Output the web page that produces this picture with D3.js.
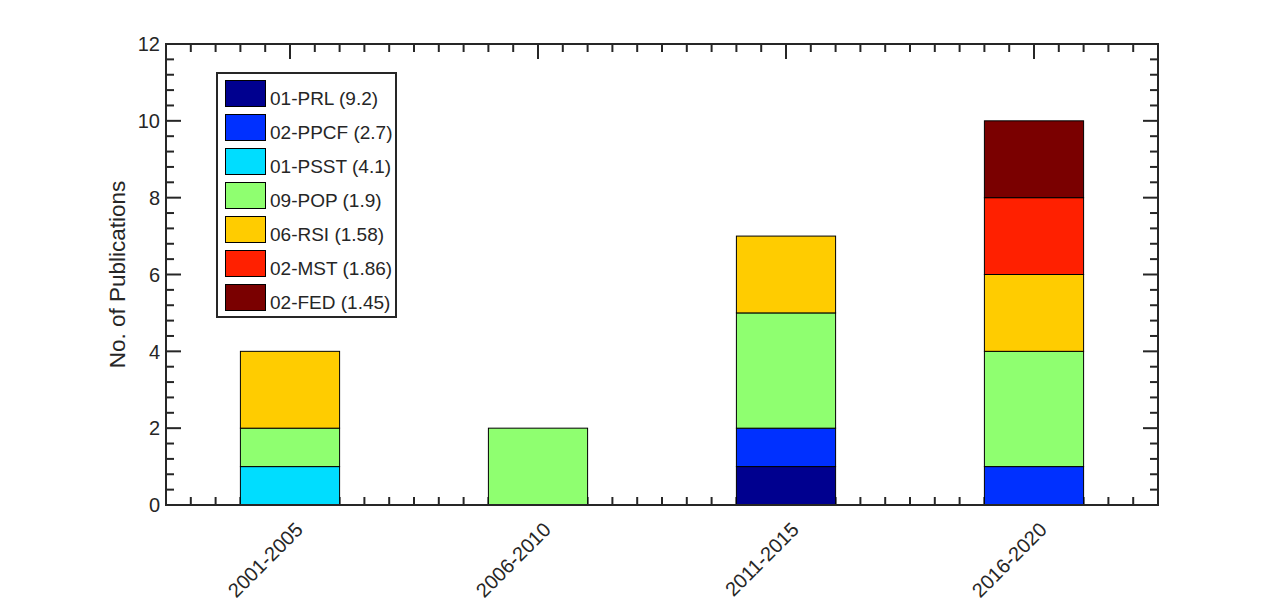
<!DOCTYPE html>
<html lang="en">
<head>
<meta charset="utf-8">
<title>No. of Publications by period</title>
<script src="https://d3js.org/d3.v7.min.js"></script>
<style>
  body { margin: 0; background: #fff; }
  svg text { font-family: "Liberation Sans", Arial, sans-serif; fill: #262626; }
</style>
</head>
<body>
<script>
// periods on the x axis
var periods = ["2001-2005", "2006-2010", "2011-2015", "2016-2020"];
// journals, stacked bottom to top
var journals = ["01-PRL (9.2)", "02-PPCF (2.7)", "01-PSST (4.1)", "09-POP (1.9)", "06-RSI (1.58)", "02-MST (1.86)", "02-FED (1.45)"];
var journalColors = ["#00008f", "#0030ff", "#00ddff", "#8fff70", "#ffcc00", "#ff2000", "#7a0000"];
// counts per journal, one value per period
var prl  = [0, 0, 1, 0];
var ppcf = [0, 0, 1, 1];
var psst = [1, 0, 0, 0];
var pop  = [1, 2, 3, 3];
var rsi  = [2, 0, 2, 2];
var mst  = [0, 0, 0, 2];
var fed  = [0, 0, 0, 2];
var yTicks = [0, 2, 4, 6, 8, 10, 12];

var counts = [prl, ppcf, psst, pop, rsi, mst, fed];

var W = 1280, H = 603;
var margin = {top: 44, right: 122, bottom: 98, left: 166};
var width = W - margin.left - margin.right;
var height = H - margin.top - margin.bottom;

var svg = d3.select("body").append("svg")
  .attr("width", W)
  .attr("height", H);

var g = svg.append("g").attr("transform", "translate(" + margin.left + "," + margin.top + ")");

// x is numeric like matlab: category i sits at i+1, limits 0.5..4.5
var x = d3.scaleLinear().domain([0.5, periods.length + 0.5]).range([0, width]);
var y = d3.scaleLinear().domain([0, 12]).range([height, 0]);
var barW = x(1.4) - x(1);

// inward ticks on all four sides (drawn first so bars cover them)
var axisColor = "#262626";
var xMinor = d3.range(6, (periods.length + 0.5) * 10, 1).map(function(v) { return v / 10; })
  .filter(function(v) { return Math.abs(v - Math.round(v)) > 1e-6; });
var xMajor = periods.map(function(p, i) { return i + 1; });
var yMinor = d3.range(0, 31).map(function(v) { return v * 0.4; })
  .filter(function(v) { return Math.abs(v / 2 - Math.round(v / 2)) > 1e-6; });

function xTickMarks(vals, len) {
  [[height, -1], [0, 1]].forEach(function(side) {
    g.selectAll(null).data(vals).enter().append("line")
      .attr("x1", function(d) { return x(d); })
      .attr("x2", function(d) { return x(d); })
      .attr("y1", side[0])
      .attr("y2", side[0] + side[1] * len)
      .attr("stroke", axisColor).attr("stroke-width", 2);
  });
}
function yTickMarks(vals, len) {
  [[0, 1], [width, -1]].forEach(function(side) {
    g.selectAll(null).data(vals).enter().append("line")
      .attr("y1", function(d) { return y(d); })
      .attr("y2", function(d) { return y(d); })
      .attr("x1", side[0])
      .attr("x2", side[0] + side[1] * len)
      .attr("stroke", axisColor).attr("stroke-width", 2);
  });
}
xTickMarks(xMinor, 8);
xTickMarks(xMajor, 15);
yTickMarks(yMinor, 8);
yTickMarks(yTicks, 15);

// build rows for d3.stack
var rows = periods.map(function(p, i) {
  var r = {period: p, pos: i + 1};
  journals.forEach(function(j, k) { r[j] = counts[k][i]; });
  return r;
});
var series = d3.stack().keys(journals)(rows);

series.forEach(function(s, k) {
  g.selectAll(".bar" + k)
    .data(s.filter(function(d) { return d[1] > d[0]; }))
    .enter().append("rect")
    .attr("x", function(d) { return x(d.data.pos) - barW / 2; })
    .attr("y", function(d) { return y(d[1]); })
    .attr("width", barW)
    .attr("height", function(d) { return y(d[0]) - y(d[1]); })
    .attr("fill", journalColors[k])
    .attr("stroke", "#000")
    .attr("stroke-width", 1);
});

g.append("rect")
  .attr("width", width).attr("height", height)
  .attr("fill", "none").attr("stroke", axisColor).attr("stroke-width", 2);

// tick labels
g.selectAll(".ylab").data(yTicks).enter().append("text")
  .attr("x", -6)
  .attr("y", function(d) { return y(d); })
  .attr("dy", "0.36em")
  .attr("text-anchor", "end")
  .style("font-size", "20px")
  .text(function(d) { return d; });

g.selectAll(".xlab").data(periods).enter().append("text")
  .attr("transform", function(d, i) {
    return "translate(" + (x(i + 1) + 14) + "," + (height + 26) + ") rotate(-45)";
  })
  .attr("text-anchor", "end")
  .style("font-size", "20px")
  .text(function(d) { return d; });

g.append("text")
  .attr("transform", "translate(-41," + (height / 2) + ") rotate(-90)")
  .attr("text-anchor", "middle")
  .style("font-size", "22.5px")
  .text("No. of Publications");

// legend
var leg = svg.append("g").attr("transform", "translate(217,73)");
leg.append("rect")
  .attr("width", 179).attr("height", 244)
  .attr("fill", "#fff").attr("stroke", axisColor).attr("stroke-width", 2);
journals.forEach(function(j, k) {
  leg.append("rect")
    .attr("x", 8.5).attr("y", 7.5 + k * 34)
    .attr("width", 40).attr("height", 26)
    .attr("fill", journalColors[k]).attr("stroke", "#000").attr("stroke-width", 1);
  leg.append("text")
    .attr("x", 53).attr("y", 32 + k * 34)
    .style("font-size", "19px")
    .text(j);
});
</script>
</body>
</html>
